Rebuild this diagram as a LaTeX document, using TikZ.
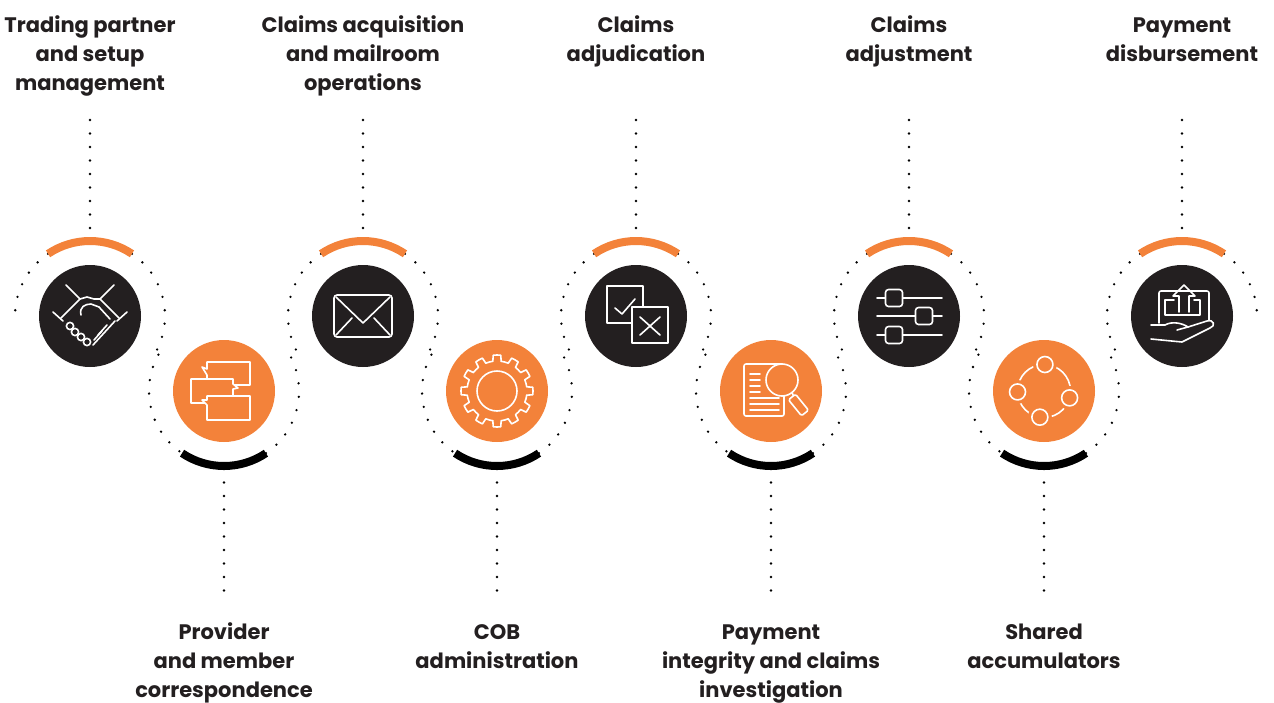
\documentclass[tikz,border=0pt]{standalone}
\usepackage{fontspec}
\setmainfont{Poppins}
\usetikzlibrary{calc}
\definecolor{stepblack}{HTML}{231F20}
\definecolor{steporange}{HTML}{F3823A}
\tikzset{
    stepcirc/.style={circle,minimum size=102pt,inner sep=0pt},
    topstep/.style={stepcirc,fill=stepblack},
    botstep/.style={stepcirc,fill=steporange},
    dotline/.style={black,line width=2.6pt,line cap=round,dash pattern=on 0pt off 13.5pt},
    orangearc/.style={steporange,line width=8pt},
    blackarc/.style={black,line width=8pt},
    icon/.style={white,line width=1.6pt,line join=round,line cap=round},
    steplabel/.style={align=center,inner sep=0pt,text=stepblack,
        font=\fontsize{21}{28.7}\selectfont\bfseries},
}
\begin{document}
\begin{tikzpicture}[x=1pt,y=1pt]
    \useasboundingbox (0,0) rectangle (1274,-702);
    %% upper steps
    \foreach \x/\n/\t in {90/t1/{Trading partner\\and setup\\management},
                          363/t2/{Claims acquisition\\and mailroom\\operations},
                          636/t3/{Claims\\adjudication},
                          909/t4/{Claims\\adjustment},
                          1182/t5/{Payment\\disbursement}}{
        \node[topstep] (\n) at (\x,-316) {};
        \node[steplabel,anchor=north] (\n-lab) at (\x,-12.5) {\strut\t};
    }
    %% lower steps
    \foreach \x/\n/\t in {224/b1/{Provider\\and member\\correspondence},
                          497/b2/{COB\\administration},
                          771/b3/{Payment\\integrity and claims\\investigation},
                          1044/b4/{Shared\\accumulators}}{
        \node[botstep] (\n) at (\x,-391) {};
        \node[steplabel,anchor=north] (\n-lab) at (\x,-619.5) {\strut\t};
    }
    %% dotted path, arcs and leader lines
    \foreach \n/\la/\ra in {t1/180/-29,t2/208.5/-29,t3/208.5/-29,t4/208.5/-29,t5/208.5/0}{
        \draw[dotline] ($(\n)+(124:75)$) arc[start angle=124,end angle=\la,radius=75];
        \draw[dotline] ($(\n)+(56:75)$) arc[start angle=56,end angle=\ra,radius=75];
        \draw[orangearc] ($(\n)+(56:75)$) arc[start angle=56,end angle=124,radius=75];
        \draw[dotline] ([yshift=88pt]\n.center) -- ([yshift=197pt]\n.center);
    }
    \foreach \n in {b1,b2,b3,b4}{
        \draw[dotline] ($(\n)+(151:75)$) arc[start angle=151,end angle=236,radius=75];
        \draw[dotline] ($(\n)+(304:75)$) arc[start angle=304,end angle=389,radius=75];
        \draw[blackarc] ($(\n)+(236:75)$) arc[start angle=236,end angle=304,radius=75];
        \draw[dotline] ([yshift=-78pt]\n.center) -- ([yshift=-201pt]\n.center);
    }
    %% handshake
    \begin{scope}[shift={(t1)},icon]
        \draw (-24,31) -- (-10,17) -- (-29,-2);
        \draw (-37,4) -- (-27,-5);
        \draw (24,31) -- (10,17) -- (29,-2);
        \draw (37,4) -- (27,-5);
        \draw (-10,17) -- (-3,19) -- (4,17) -- (10,17);
        \draw (-9,1) .. controls (-11,9) and (-5,12) .. (1,12) -- (9,9);
        \draw (9,9) -- (20,-3);
        \foreach \p in {(-20,-10),(-15,-16),(-9,-21),(-3,-26)}
            \draw \p circle (3.6);
        \draw (25,-5) -- (3,-29);
        \draw (17,-9) -- (8,-19);
        \draw (12,-15) -- (4,-24);
    \end{scope}
    %% chat bubbles
    \begin{scope}[shift={(b1)},icon]
        \draw (-17,16) -- (-17,6) -- (26,6) -- (26,29) -- (-17,29) -- (-17,22) -- (-22,24) -- cycle;
        \filldraw[fill=steporange] (-33,12) -- (9,12) -- (9,7) -- (14,3) -- (9,2) -- (9,-12) -- (-33,-12) -- cycle;
        \filldraw[fill=steporange] (-17,-5) -- (26,-5) -- (26,-29) -- (-17,-29) -- (-17,-14) -- (-22,-9) -- (-17,-9) -- cycle;
    \end{scope}
    %% envelope
    \begin{scope}[shift={(t2)},icon]
        \draw[rounded corners=3] (-29,-21) rectangle (29,21);
        \draw (-27,19) -- (0,-7) -- (27,19);
        \draw (-27,-19) -- (-11,-2);
        \draw (27,-19) -- (11,-2);
    \end{scope}
    %% gear
    \begin{scope}[shift={(b2)},icon]
        \foreach \a in {0,30,...,330}
            \draw (\a-8:30) -- (\a-6:36) arc[start angle=\a-6,end angle=\a+6,radius=36]
                -- (\a+8:30) arc[start angle=\a+8,end angle=\a+22,radius=30];
        \draw (0,0) circle (20);
    \end{scope}
    %% check and cross
    \begin{scope}[shift={(t3)},icon]
        \draw (-29,-7) rectangle (7,30);
        \filldraw[fill=stepblack] (-4,-27) rectangle (32,9);
        \draw (-21,8) -- (-14,2) -- (-1,17);
        \draw (4,-1) -- (24,-19);
        \draw (24,-1) -- (4,-19);
    \end{scope}
    %% document and magnifier
    \begin{scope}[shift={(b3)},icon]
        \draw[rounded corners=2] (-27,-25) rectangle (13,27);
        \foreach \y in {17,11,5,-1}
            \draw (-21,\y) -- (-11,\y);
        \foreach \y in {-7,-13,-19}
            \draw (-21,\y) -- (8,\y);
        \filldraw[fill=steporange] (11,11) circle (16);
        \draw (21,-1.5) -- (22.5,-5);
        \filldraw[fill=steporange,rounded corners=1.5] (24.5,-3.2) -- (37.5,-19.2) -- (30.5,-24.8) -- (17.5,-8.8) -- cycle;
    \end{scope}
    %% sliders
    \begin{scope}[shift={(t4)},icon]
        \foreach \y in {18,0,-19}
            \draw (-32,\y) -- (33,\y);
        \foreach \x/\y in {-15/18,15/0,-15/-19}
            \filldraw[fill=stepblack,rounded corners=3] (\x-8.5,\y-8.5) rectangle (\x+8.5,\y+8.5);
    \end{scope}
    %% cycle
    \begin{scope}[shift={(b4)},icon]
        \draw (0,0) circle (26.5);
        \foreach \a in {88,182,345,261}{
            \fill[steporange] (\a:26.5) circle (12);
            \draw (\a:26.5) circle (8);
        }
    \end{scope}
    %% hand and upload
    \begin{scope}[shift={(t5)},icon]
        \draw[rounded corners=2] (-23,-7) -- (-23,25) -- (27,25) -- (27,-4);
        \draw (-8,16) -- (-17,16) -- (-17,1) -- (18,1) -- (18,16) -- (12,16);
        \draw (-3,4) -- (-3,20) -- (-9,20) -- (2,31) -- (13,20) -- (7,20) -- (7,4);
        \draw (-31,-9) -- (-17,-9) .. controls (-10,-5) and (0,-7) .. (6,-11) -- (-5,-14);
        \draw (6,-11) -- (25,-5) .. controls (32,-3) and (34,-10) .. (28,-12) -- (0,-26) -- (-31,-23);
    \end{scope}
\end{tikzpicture}
\end{document}
